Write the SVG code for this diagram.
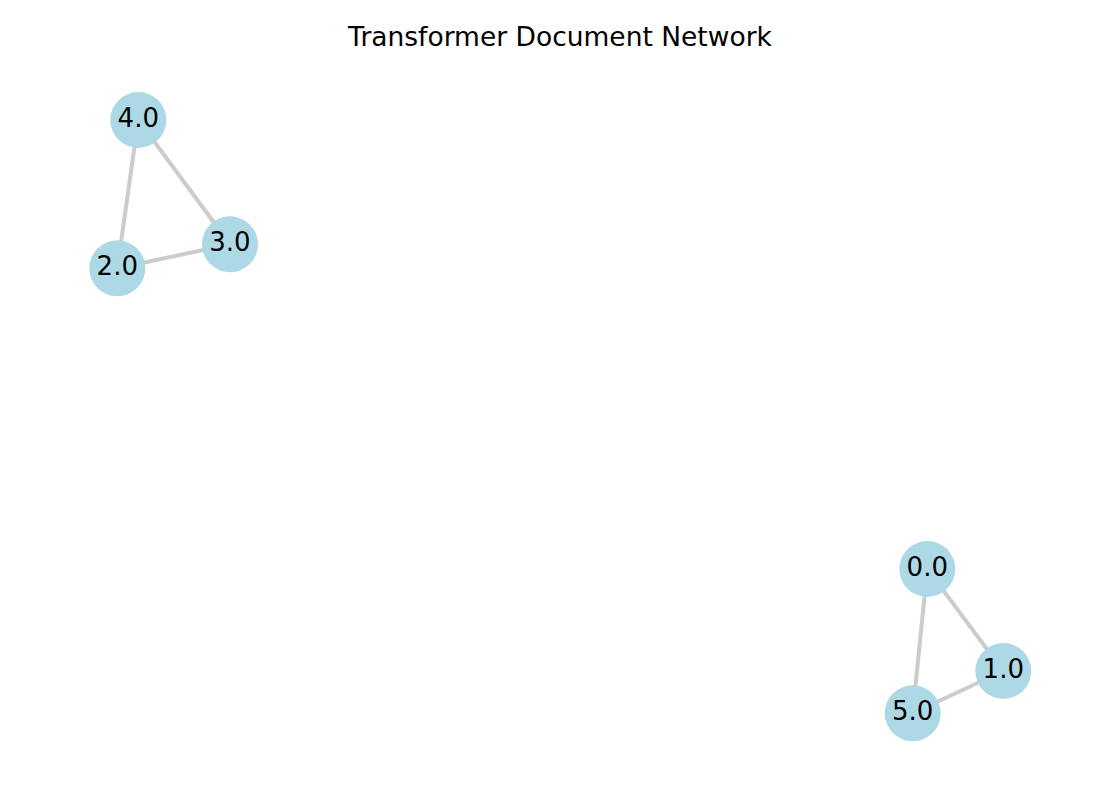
<svg xmlns="http://www.w3.org/2000/svg" width="1120" height="800" viewBox="0 0 1120 800">
<style>
.edge{stroke:#cccccc;stroke-width:4;fill:none}
.node circle{fill:#add8e6}
.node text{font-family:"DejaVu Sans",sans-serif;font-size:26px;fill:#000;text-anchor:middle}
.title{font-family:"DejaVu Sans",sans-serif;font-size:26.5px;fill:#000;text-anchor:middle}
</style>
<rect width="1120" height="800" fill="#ffffff"/>
<text class="title" x="560" y="45.5">Transformer Document Network</text>
<g id="edges">
<line class="edge" x1="138.3" y1="120" x2="230" y2="244.3"/>
<line class="edge" x1="138.3" y1="120" x2="117.3" y2="268.3"/>
<line class="edge" x1="117.3" y1="268.3" x2="230" y2="244.3"/>
<line class="edge" x1="927.3" y1="569" x2="1003.3" y2="671"/>
<line class="edge" x1="927.3" y1="569" x2="912.7" y2="713.3"/>
<line class="edge" x1="912.7" y1="713.3" x2="1003.3" y2="671"/>
</g>
<g id="node-4" class="node"><circle cx="138.3" cy="120" r="28"/><text x="138.3" y="126.5">4.0</text></g>
<g id="node-3" class="node"><circle cx="230" cy="244.3" r="28"/><text x="230" y="250.8">3.0</text></g>
<g id="node-2" class="node"><circle cx="117.3" cy="268.3" r="28"/><text x="117.3" y="274.8">2.0</text></g>
<g id="node-0" class="node"><circle cx="927.3" cy="569" r="28"/><text x="927.3" y="575.5">0.0</text></g>
<g id="node-1" class="node"><circle cx="1003.3" cy="671" r="28"/><text x="1003.3" y="677.5">1.0</text></g>
<g id="node-5" class="node"><circle cx="912.7" cy="713.3" r="28"/><text x="912.7" y="719.8">5.0</text></g>
</svg>
